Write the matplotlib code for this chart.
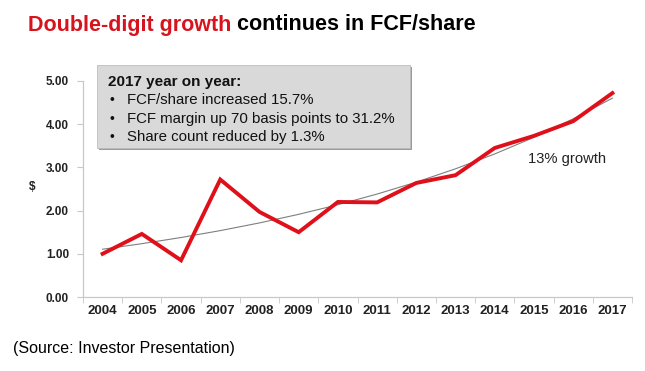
import numpy as np
import matplotlib
matplotlib.use("Agg")
import matplotlib.pyplot as plt
from matplotlib.patches import Rectangle

# FCF per share by year
years = ["2004", "2005", "2006", "2007", "2008", "2009", "2010",
         "2011", "2012", "2013", "2014", "2015", "2016", "2017"]
fcf_share = [1.00, 1.46, 0.85, 2.72, 1.97, 1.50, 2.20,
             2.19, 2.64, 2.82, 3.45, 3.73, 4.07, 4.72]
ytick_vals = [0.0, 1.0, 2.0, 3.0, 4.0, 5.0]
box_title = "2017 year on year:"
box_lines = ["FCF/share increased 15.7%",
             "FCF margin up 70 basis points to 31.2%",
             "Share count reduced by 1.3%"]

W, H = 645, 371
plt.rcParams['font.family'] = ['Liberation Sans', 'DejaVu Sans']

fig = plt.figure(figsize=(W / 100, H / 100), dpi=100)
fig.patch.set_facecolor("white")


def fx(px):
    return px / W


def fy(py):
    return 1 - py / H


ax = fig.add_axes([fx(83), fy(297), (632 - 83) / W, (297 - 81) / H])

x = np.arange(len(years))

# exponential trend line (least squares on log values, like Excel)
b, a = np.polyfit(x, np.log(fcf_share), 1)
trend = np.exp(a + b * x)
ax.plot(x, trend, color="#7f7f7f", lw=0.8, zorder=2)
ax.plot(x, fcf_share, color="#e0101a", lw=2.8, zorder=3,
        solid_joinstyle="miter")

ax.set_xlim(-0.5, len(years) - 0.5)
ax.set_ylim(0, 5)
ax.set_yticks(ytick_vals)
ax.set_yticklabels(["%.2f" % v for v in ytick_vals], fontsize=8.5,
                   fontweight="bold", color="#222222")
ax.set_xticks(x)
ax.set_xticklabels(years, fontsize=9.5, fontweight="bold", color="#222222")
ax.set_xticks(np.arange(-0.5, len(years)), minor=True)
ax.tick_params(axis="x", which="major", length=0, pad=6)
ax.tick_params(axis="x", which="minor", length=4, color="#c8c8c8")
ax.tick_params(axis="y", length=4, color="#c8c8c8", pad=6)

for side in ["top", "right"]:
    ax.spines[side].set_visible(False)
for side in ["left", "bottom"]:
    ax.spines[side].set_color("#c8c8c8")
    ax.spines[side].set_linewidth(0.9)

# "$" axis label
fig.text(fx(32), fy(187), "$", fontsize=8.5, fontweight="bold",
         ha="center", va="center", color="#222222")

# title in two colours, second part placed after the first
t1 = fig.text(fx(28), fy(25), "Double-digit growth", fontsize=15.5,
              fontweight="bold", color="#d7141e", ha="left", va="center")
fig.canvas.draw()
bb = t1.get_window_extent(renderer=fig.canvas.get_renderer())
fig.text(bb.x1 / W, fy(25), " continues in FCF/share", fontsize=15.5,
         fontweight="bold", color="black", ha="left", va="center")

# grey info box with shadow
shadow = Rectangle((fx(99), fy(150)), fx(313), (150 - 67) / H,
                   transform=fig.transFigure, facecolor="#9a9a9a",
                   edgecolor="none", zorder=4)
box = Rectangle((fx(97), fy(148)), fx(313), (148 - 65) / H,
                transform=fig.transFigure, facecolor="#d9d9d9",
                edgecolor="#bdbdbd", lw=0.6, zorder=5)
fig.patches.extend([shadow, box])

fig.text(fx(108), fy(82), box_title, fontsize=11, fontweight="bold",
         color="#111111", ha="left", va="center", zorder=6)
for i, line in enumerate(box_lines):
    yy = 100 + i * 18.5
    fig.text(fx(112), fy(yy), "\u2022", fontsize=10, color="#111111",
             ha="center", va="center", zorder=6)
    fig.text(fx(127), fy(yy), line, fontsize=10.8, color="#111111",
             ha="left", va="center", zorder=6)

fig.text(fx(528), fy(159), "13% growth", fontsize=10.6, color="#222222",
         ha="left", va="center")

fig.text(fx(13), fy(348), "(Source: Investor Presentation)", fontsize=11.5,
         color="black", ha="left", va="center")

fig.savefig("out.png", dpi=100)
